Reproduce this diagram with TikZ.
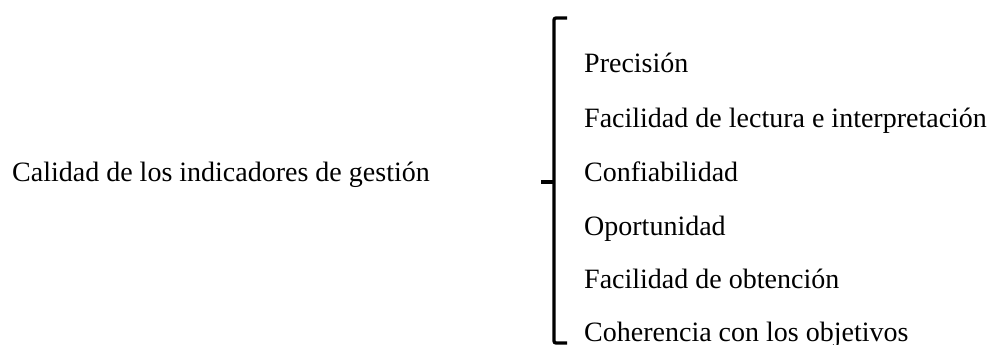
\documentclass[tikz,border=0pt]{standalone}
\usepackage{fontspec}
\setmainfont{Liberation Serif}
\begin{document}
\begin{tikzpicture}[x=1pt,y=-1pt,
  item/.style={anchor=base west,inner sep=0pt,font=\fontsize{28}{30}\selectfont},
  brace/.style={line width=3.3pt,line cap=butt,rounded corners=2pt}]
\useasboundingbox (0,0) rectangle (995,345);
\node[item] (root) at (12,181) {Calidad de los indicadores de gestión};
\node[item] (a) at (584,73) {Precisión};
\node[item] (b) at (584,127) {Facilidad de lectura e interpretación};
\node[item] (c) at (584,181) {Confiabilidad};
\node[item] (d) at (584,235) {Oportunidad};
\node[item] (e) at (584,288) {Facilidad de obtención};
\node[item] (f) at (584,341) {Coherencia con los objetivos};
\coordinate (top) at (567,18);
\coordinate (bot) at (567,343);
\coordinate (mid) at (541,182);
\draw[brace] (top) -- (554,18) -- (554,343) -- (bot);
\draw[brace] (mid) -- (554,182);
\end{tikzpicture}
\end{document}
